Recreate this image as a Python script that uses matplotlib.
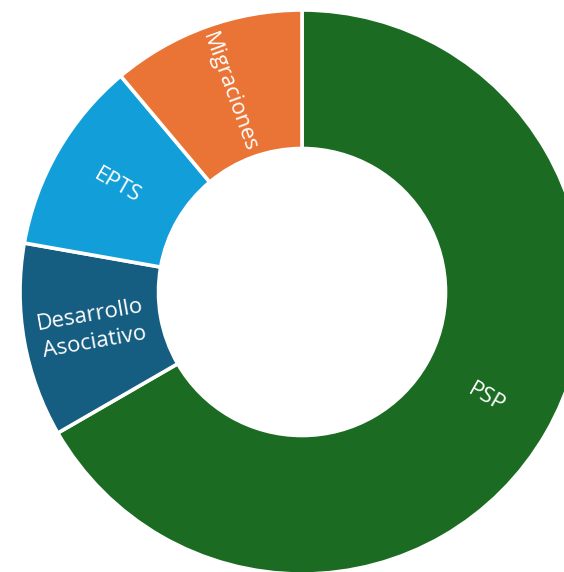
import numpy as np
import matplotlib.pyplot as plt

labels = ['PSP', 'Desarrollo\nAsociativo', 'EPTS', 'Migraciones']
values = [6, 1, 1, 1]
colors = ['#1b6b23', '#155e82', '#129fd9', '#e97435']

plt.rcParams['font.family'] = ['Open Sans', 'DejaVu Sans']

fig = plt.figure(figsize=(5.64, 5.72), dpi=100)
ax = fig.add_axes([0, 0, 1, 1])

# pie radius 1 -> 282 px, centre at pixel (302, 292)
r_in = 143.5 / 282
wedges, _ = ax.pie(values, colors=colors, startangle=90, counterclock=False,
                   radius=1, wedgeprops=dict(width=1 - r_in, edgecolor='white', linewidth=2.6))

# labels in the middle of the ring, rotated along the radius
r_mid = (1 + r_in) / 2
for w, lab in zip(wedges, labels):
    ang = (w.theta1 + w.theta2) / 2
    x = r_mid * np.cos(np.radians(ang))
    y = r_mid * np.sin(np.radians(ang))
    rot = ang
    if rot > 90:
        rot -= 180
    if rot < -90:
        rot += 180
    ax.text(x, y, lab, ha='center', va='center', rotation=rot,
            rotation_mode='anchor', color='white', fontsize=16, linespacing=1.4)

ax.set_xlim(-302 / 282, (564 - 302) / 282)
ax.set_ylim(-(572 - 292) / 282, 292 / 282)
ax.set_aspect('equal')
ax.axis('off')

fig.savefig('out.png', dpi=100)
